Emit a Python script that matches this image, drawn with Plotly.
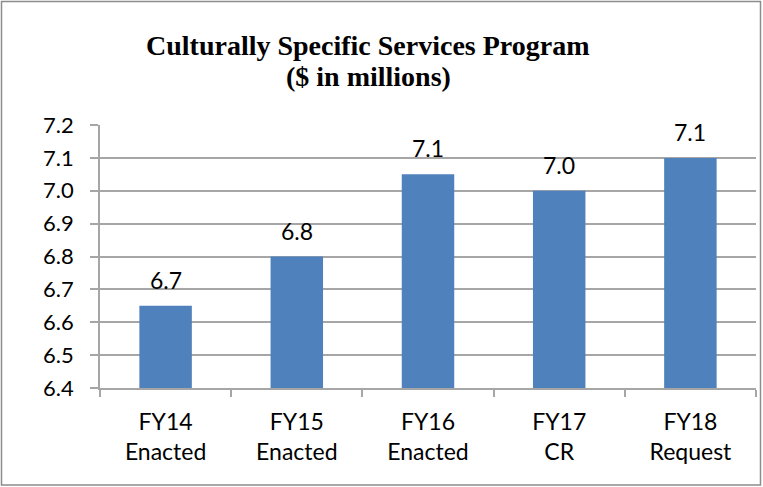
import plotly.graph_objects as go

categories = ["FY14<br>Enacted", "FY15<br>Enacted", "FY16<br>Enacted", "FY17<br>CR", "FY18<br>Request"]
values = [6.65, 6.80, 7.05, 7.00, 7.10]
value_labels = ["6.7", "6.8", "7.1", "7.0", "7.1"]
y_ticks = [6.4, 6.5, 6.6, 6.7, 6.8, 6.9, 7.0, 7.1, 7.2]
y_tick_labels = ["6.4", "6.5", "6.6", "6.7", "6.8", "6.9", "7.0", "7.1", "7.2"]
title_lines = ["Culturally Specific Services Program", "($ in millions)"]

W, H = 763, 487
ml, mr, mt, mb = 100, 7, 125, 99
pw, ph = W - ml - mr, H - mt - mb
FONT = "Lato, Liberation Sans"

fig = go.Figure(go.Bar(
    x=categories, y=values,
    marker=dict(color="#4F81BD", line=dict(width=0)),
    width=0.4, cliponaxis=False,
))

for c, v, t in zip(categories, values, value_labels):
    fig.add_annotation(x=c, y=v, text=t, showarrow=False, xanchor="center",
                       yanchor="bottom", yshift=10,
                       font=dict(family=FONT, size=23, color="#000000"))

fig.update_layout(
    width=W, height=H,
    margin=dict(l=ml, r=mr, t=mt, b=mb),
    paper_bgcolor="white", plot_bgcolor="white",
    showlegend=False,
    font=dict(family=FONT, size=20, color="#000000"),
)
fig.update_yaxes(
    range=[6.4, 7.2], tickvals=y_ticks, ticktext=y_tick_labels,
    showgrid=True, gridcolor="#A6A6A6", gridwidth=1.6,
    showline=True, linecolor="#A6A6A6", linewidth=1.6,
    ticks="outside", ticklen=8, tickcolor="#A6A6A6", tickwidth=1.6,
    ticklabelstandoff=12, zeroline=False,
    tickfont=dict(family=FONT, size=22, color="#000000"),
)
fig.update_xaxes(
    showline=True, linecolor="#A6A6A6", linewidth=1.6,
    ticks="outside", ticklen=7, tickcolor="#A6A6A6", tickwidth=1.6,
    tickson="boundaries", ticklabelstandoff=13,
    tickfont=dict(family=FONT, size=23, color="#000000"),
)

def px_x(p):
    return (p - ml) / pw

def px_y(p):
    return (H - mb - p) / ph

fig.add_shape(type="rect", xref="paper", yref="paper",
              x0=px_x(1.5), x1=px_x(760.5), y0=px_y(1.5), y1=px_y(485),
              line=dict(color="#8C8C8C", width=1.5), fillcolor="rgba(0,0,0,0)", layer="below")

for line, cy in zip(title_lines, [45, 76]):
    fig.add_annotation(
        text="<b>" + line + "</b>",
        xref="paper", yref="paper", x=px_x(368), y=px_y(cy),
        xanchor="center", yanchor="middle", showarrow=False,
        font=dict(family="Liberation Serif, Times New Roman", size=28, color="#000000"),
    )

fig.write_html("out.html", config={"displayModeBar": False},
               post_script="document.body.style.margin='0';")
